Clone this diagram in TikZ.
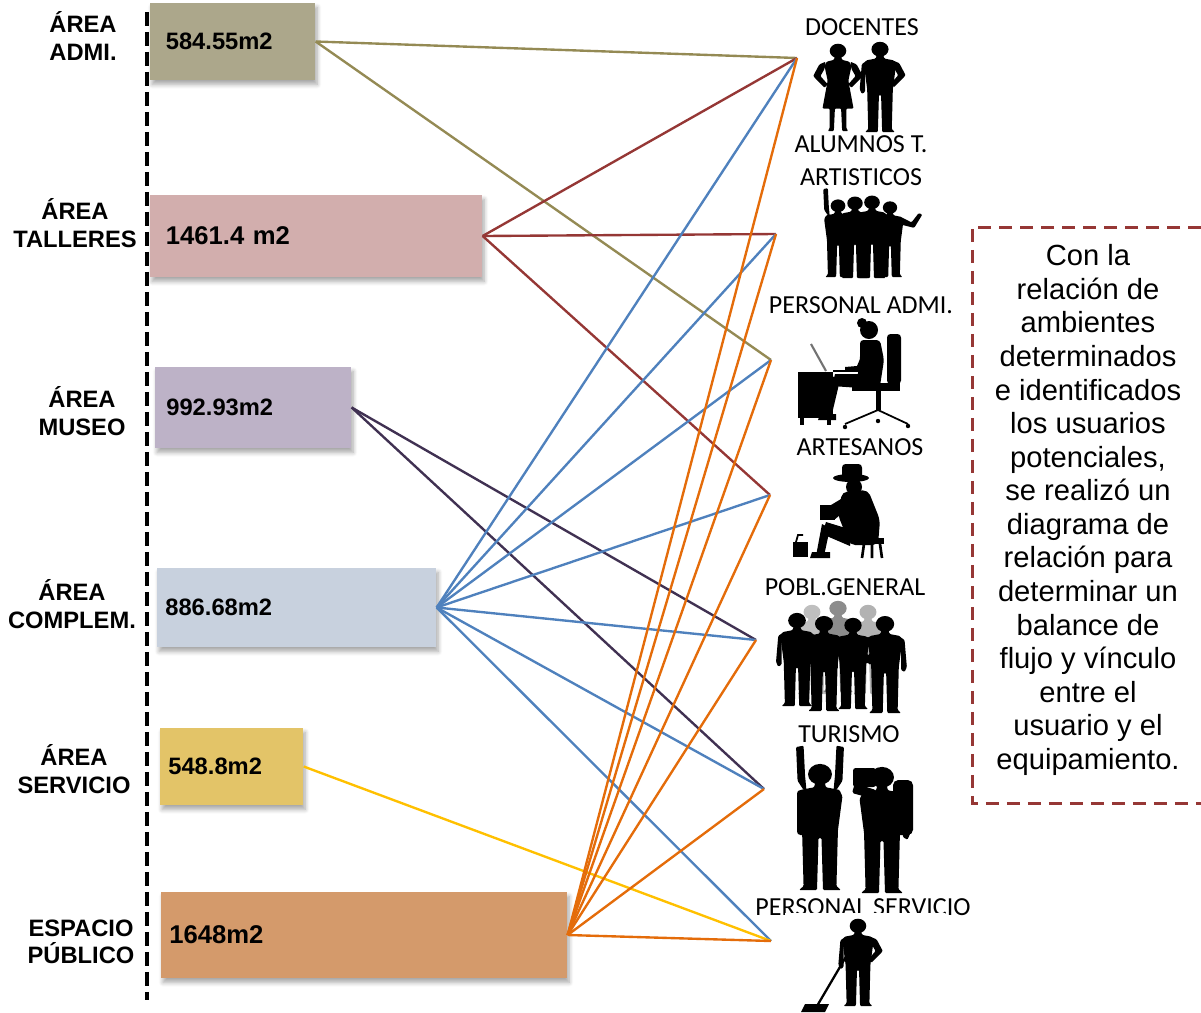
\documentclass[tikz,border=0pt]{standalone}
\usepackage{fontspec}
\usepackage{tikz}
\usetikzlibrary{shadows.blur}
\newfontfamily\arial{Liberation Sans}
\newfontfamily\calibri{Carlito}

\definecolor{admiC}{RGB}{172,167,139}
\definecolor{tallerC}{RGB}{210,174,173}
\definecolor{museoC}{RGB}{189,178,199}
\definecolor{compC}{RGB}{200,209,222}
\definecolor{servC}{RGB}{227,196,104}
\definecolor{pubC}{RGB}{212,154,107}
\definecolor{linAdmi}{RGB}{148,138,84}
\definecolor{linTaller}{RGB}{149,55,53}
\definecolor{linMuseo}{RGB}{64,49,82}
\definecolor{linComp}{RGB}{79,129,189}
\definecolor{linServ}{RGB}{255,192,0}
\definecolor{linPub}{RGB}{228,108,10}
\definecolor{marco}{RGB}{150,55,53}

% siluetas: pies en (0,0), 100 unidades de alto
\tikzset{
	vacio/.pic={},
	cuerpo/.pic={
		\fill[pic actions] (0,-89) circle (8);
		\fill[pic actions,rounded corners=0.6pt] (-3,-83) -- (3,-83) -- (4,-79) -- (13,-77) -- (15,-72) -- (12,-46) -- (11,-3) -- (14,0) -- (2,0) -- (1,-40) -- (-1,-40) -- (-2,0) -- (-14,0) -- (-11,-3) -- (-12,-46) -- (-15,-72) -- (-13,-77) -- (-4,-79) -- cycle;
	},
	vestido/.pic={
		\fill[pic actions] (0,-89) circle (8);
		\fill[pic actions,rounded corners=0.6pt] (-3,-83) -- (3,-83) -- (4,-79) -- (11,-77) -- (13,-72) -- (10,-56) -- (15,-25) -- (8,-25) -- (8,-3) -- (10,0) -- (4,0) -- (3,-25) -- (-3,-25) -- (-4,0) -- (-10,0) -- (-8,-3) -- (-8,-25) -- (-15,-25) -- (-10,-56) -- (-13,-72) -- (-11,-77) -- (-4,-79) -- cycle;
	},
	brazoabajo/.pic={
		\fill[pic actions,rounded corners=0.6pt] (12,-77) -- (17,-73) -- (19,-46) -- (17,-41) -- (14,-43) -- (14,-68) -- cycle;
	},
	brazojarra/.pic={
		\fill[pic actions,rounded corners=0.6pt] (12,-77) -- (18,-74) -- (24,-61) -- (13,-48) -- (10,-52) -- (17,-61) -- (13,-69) -- cycle;
	},
	brazoarriba/.pic={
		\fill[pic actions,rounded corners=0.6pt] (11,-77) -- (15,-84) -- (16,-110) -- (11,-111) -- (10,-88) -- (9,-76) -- cycle;
	},
	brazofuera/.pic={
		\fill[pic actions,rounded corners=0.6pt] (12,-77) -- (24,-70) -- (32,-82) -- (36,-80) -- (27,-63) -- (13,-67) -- cycle;
	},
}

% x, y (pies), escala, cuerpo, brazo izq., brazo der., color
\newcommand{\silueta}[7]{%
	\begin{scope}[shift={(#1,#2)},scale=#3,xscale=1.15]
		\pic[fill=#7,transform shape] at (0,0) {#4};
		\pic[fill=#7,transform shape,xscale=-1] at (0,0) {#5};
		\pic[fill=#7,transform shape] at (0,0) {#6};
	\end{scope}}

\begin{document}
\begin{tikzpicture}[x=0.02cm,y=-0.02cm,
	area/.style={font=\arial\bfseries\fontsize{13.5}{15.6}\selectfont, align=center},
	barra/.style={anchor=west, inner ysep=0pt, align=left, font=\arial\bfseries\fontsize{13.5}{16}\selectfont,
		blur shadow={shadow blur steps=6, shadow xshift=1pt, shadow yshift=-2.5pt, shadow blur radius=2.5pt, shadow opacity=35}},
	cifra grande/.style={font=\arial\bfseries\fontsize{14.6}{17}\selectfont},
	usuario/.style={font=\calibri\fontsize{14.8}{18.7}\selectfont, align=center},
	lin/.style={line width=1.35pt},
	parrafo/.style={font=\arial\fontsize{16.6}{19.1}\selectfont, align=center}]
	\useasboundingbox (0,0) rectangle (1201,1012);
	
	%%%%% AREAS %%%%%
	
	\draw[line width=0.065cm, dash pattern=on 0.28cm off 0.12cm] (147,12) -- (147,1000);
	
	\node[area] (t-admi) at (83,36) {ÁREA\\ADMI.};
	\node[area] (t-talleres) at (75,223) {ÁREA\\TALLERES};
	\node[area] (t-museo) at (82,411) {ÁREA\\MUSEO};
	\node[area] (t-complem) at (72,604) {ÁREA\\COMPLEM.};
	\node[area] (t-servicio) at (74,769) {ÁREA\\SERVICIO};
	\node[area] (t-publico) at (81,942) {ESPACIO\\PÚBLICO};
	
	\node[barra, fill=admiC, minimum height=1.54cm, text width=2.68cm, inner xsep=0.31cm] (admi) at (150,41.5) {584.55m2};
	\node[barra, cifra grande, fill=tallerC, minimum height=1.64cm, text width=6.02cm, inner xsep=0.31cm] (talleres) at (150,236) {1461.4 m2};
	\node[barra, fill=museoC, minimum height=1.62cm, text width=3.48cm, inner xsep=0.22cm] (museo) at (155,407.5) {992.93m2};
	\node[barra, fill=compC, minimum height=1.58cm, text width=5.26cm, inner xsep=0.16cm] (complem) at (157,607.5) {886.68m2};
	\node[barra, fill=servC, minimum height=1.54cm, text width=2.54cm, inner xsep=0.16cm] (servicio) at (160,766.5) {548.8m2};
	\node[barra, cifra grande, fill=pubC, minimum height=1.72cm, text width=7.80cm, inner xsep=0.16cm] (publico) at (161,935) {1648m2};
	
	%%%%% USUARIOS %%%%%
	
	\coordinate (docentes) at (797,58);
	\coordinate (alumnos) at (776,234);
	\coordinate (personal) at (771,360);
	\coordinate (artesanos) at (770,495);
	\coordinate (poblacion) at (756,640);
	\coordinate (turismo) at (764,789);
	\coordinate (servicios) at (771,941);
	
	\draw[lin, linAdmi] (admi.east) -- (docentes);
	\draw[lin, linAdmi] (admi.east) -- (personal);
	\foreach \u in {docentes,alumnos,artesanos}
		\draw[lin, linTaller] (talleres.east) -- (\u);
	\foreach \u in {poblacion,turismo}
		\draw[lin, linMuseo] (museo.east) -- (\u);
	\foreach \u in {docentes,alumnos,personal,artesanos,poblacion,turismo,servicios}
		\draw[lin, linComp] (complem.east) -- (\u);
	\draw[lin, linServ] (servicio.east) -- (servicios);
	\foreach \u in {docentes,alumnos,personal,artesanos,poblacion,turismo,servicios}
		\draw[lin, linPub] (publico.east) -- (\u);
	
	\node[usuario] (l-docentes) at (862,27) {DOCENTES};
	\node[usuario] (l-alumnos) at (861,161) {ALUMNOS T.\\ARTISTICOS};
	\node[usuario] (l-personal) at (861,305) {PERSONAL ADMI.};
	\node[usuario] (l-artesanos) at (860,447) {ARTESANOS};
	\node[usuario] (l-poblacion) at (845,587) {POBL.GENERAL};
	\node[usuario] (l-turismo) at (849,734) {TURISMO};
	\node[usuario] (l-servicios) at (863,907) {PERSONAL SERVICIO};
	
	% docentes
	\silueta{838}{131}{0.9}{vestido}{brazojarra}{brazojarra}{black}
	\silueta{880}{132}{0.93}{cuerpo}{brazoabajo}{brazojarra}{black}
	
	% alumnos
	\silueta{890}{277}{0.78}{cuerpo}{brazoabajo}{brazofuera}{black}
	\silueta{872}{278}{0.85}{cuerpo}{brazoabajo}{brazoabajo}{black}
	\silueta{855}{278}{0.84}{cuerpo}{brazoabajo}{brazoabajo}{black}
	\silueta{838}{277}{0.8}{cuerpo}{brazoarriba}{brazoabajo}{black}
	
	% personal administrativo
	\fill (798,372) rectangle (833,418);
	\fill (800,418) rectangle (804,425);
	\fill (827,418) rectangle (831,425);
	\draw[line width=0.8pt] (833,371) -- (862,371);
	\draw[black!55, line width=1.2pt] (811,344) -- (826,371);
	\fill[rounded corners=2pt] (887,334) rectangle (901,384);
	\fill (852,383) rectangle (900,391);
	\fill (876,391) rectangle (881,410);
	\draw[line width=1pt] (845,424) -- (878,410) -- (908,424);
	\fill (845,427) circle (2.2);
	\fill (908,426) circle (2.2);
	\fill (878,421) circle (2.2);
	\fill (869,330) circle (9);
	\fill (862,323) circle (5);
	\fill[rounded corners=2pt] (860,340) -- (880,340) -- (884,360) -- (880,386) -- (856,386) -- (860,360) -- cycle;
	\fill (858,374) -- (835,374) -- (832,386) -- (860,388) -- cycle;
	\fill (832,376) -- (840,380) -- (831,418) -- (824,418) -- cycle;
	\fill (820,414) -- (836,414) -- (836,420) -- (818,420) -- cycle;
	\fill (866,345) -- (873,348) -- (862,372) -- (845,371) -- (845,367) -- (857,366) -- cycle;
	
	% artesanos
	\fill (851,478) ellipse (18 and 4);
	\fill[rounded corners=2pt] (842,479) rectangle (862,464);
	\fill (854,487) circle (8);
	\fill[rounded corners=3pt] (842,492) -- (868,490) -- (880,520) -- (878,545) -- (850,545) -- (838,515) -- cycle;
	\fill[rounded corners=1pt] (846,496) -- (852,505) -- (834,520) -- (824,516) -- (826,508) -- cycle;
	\fill (820,505) rectangle (835,520);
	\fill (852,530) -- (826,522) -- (822,534) -- (850,546) -- cycle;
	\fill (822,524) -- (830,528) -- (824,556) -- (816,556) -- cycle;
	\fill (812,552) -- (830,552) -- (830,558) -- (810,558) -- cycle;
	\fill (860,538) rectangle (884,544);
	\draw[line width=1.5pt] (864,544) -- (862,558) (880,544) -- (882,558) (872,544) -- (872,558);
	\fill (793,542) rectangle (808,557);
	\draw[line width=1pt] (796,542) -- (798,535) -- (803,535);
	
	% poblacion general
	\silueta{812}{694}{0.92}{cuerpo}{brazoabajo}{brazoabajo}{black!25}
	\silueta{838}{692}{0.94}{cuerpo}{brazoabajo}{brazoabajo}{black!45}
	\silueta{868}{694}{0.92}{cuerpo}{brazoabajo}{brazoabajo}{black!30}
	\silueta{797}{706}{0.96}{cuerpo}{brazoabajo}{brazoabajo}{black}
	\silueta{824}{711}{0.98}{cuerpo}{brazoabajo}{brazoabajo}{black}
	\silueta{853}{709}{0.94}{cuerpo}{brazoabajo}{brazojarra}{black}
	\silueta{885}{713}{1.0}{cuerpo}{brazojarra}{brazoabajo}{black}
	
	% turismo
	\fill[rounded corners=2pt] (797,790) rectangle (811,835);
	\silueta{820}{890}{1.3}{cuerpo}{brazoarriba}{brazoarriba}{black}
	\fill[rounded corners=3pt] (893,780) rectangle (913,835);
	\silueta{882}{893}{1.3}{cuerpo}{vacio}{brazoabajo}{black}
	\fill[rounded corners=1pt] (874,799) -- (852,793) -- (855,783) -- (863,786) -- (876,790) -- cycle;
	\fill[rounded corners=1.5pt] (853,768) rectangle (876,787);
	
	% personal de servicio
	\fill[white] (785,913) rectangle (945,1012);
	\silueta{858}{1006}{0.9}{cuerpo}{brazoabajo}{brazojarra}{black}
	\draw[line width=1.3pt] (847,955) -- (817,1006);
	\fill (805,1004) -- (829,1004) -- (825,1012) -- (801,1012) -- cycle;
	
	%%%%% NOTA %%%%%
	
	\draw[marco, line width=0.06cm, dash pattern=on 0.26cm off 0.16cm] (1201,227) -- (972,227) -- (972,803) -- (1201,803);
	\node[parrafo] (nota) at (1088,510) {Con la\\relación de\\ambientes\\determinados\\e identificados\\los usuarios\\potenciales,\\se realizó un\\diagrama de\\relación para\\determinar un\\balance de\\flujo y vínculo\\entre el\\usuario y el\\equipamiento.};
	
\end{tikzpicture}
\end{document}
